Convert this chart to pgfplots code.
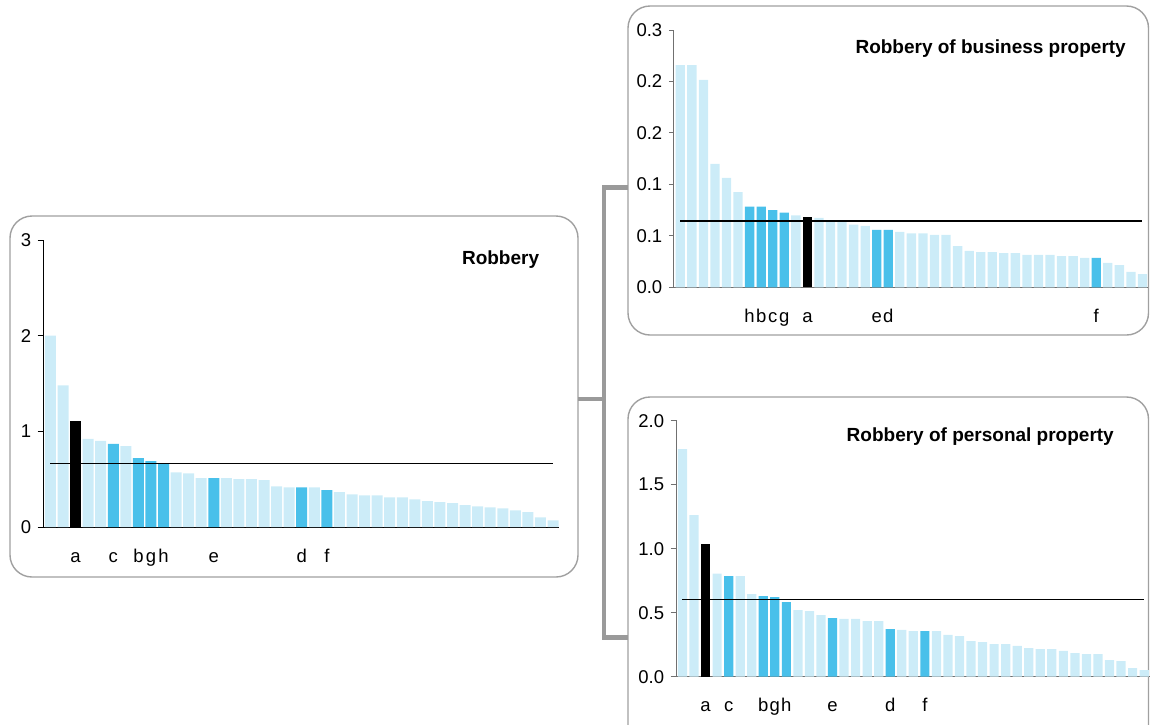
\documentclass[border=0pt]{standalone}
\usepackage{fontspec}
\setmainfont{Liberation Sans}
\usepackage{pgfplots}
\pgfplotsset{compat=1.18}
\definecolor{lightb}{HTML}{CCECF8}
\definecolor{darkb}{HTML}{49C0EA}
\definecolor{boxgray}{HTML}{A0A0A0}
\definecolor{conngray}{HTML}{9A9A9A}
\definecolor{axgray}{HTML}{707070}
\pgfplotsset{
  robax/.style={
    scale only axis, anchor=origin,
    axis lines=left, axis line style={-},
    /pgf/number format/assume math mode=true,
    tick label style={font=\fontsize{18.5}{21}\selectfont},
    x tick style={draw=none},
    xtick align=inside, ytick align=outside,
    xticklabel style={anchor=base, yshift=-35pt},
    yticklabel style={xshift=-3pt},
    clip=false,
  },
  barL/.style={ybar, bar shift=0pt, fill=lightb, draw=none},
  barD/.style={ybar, bar shift=0pt, fill=darkb, draw=none},
  barK/.style={ybar, bar shift=0pt, fill=black, draw=none},
  avg/.style={sharp plot, black, line width=1.7pt, mark=none},
}
\begin{document}
\begin{tikzpicture}
\useasboundingbox (0pt,0pt) rectangle (1150pt,-724pt);
% panel boxes
\draw[boxgray, line width=1.4pt, rounded corners=22pt] (10pt,-216pt) rectangle (578pt,-577pt);
\draw[boxgray, line width=1.4pt, rounded corners=22pt] (628pt,-6pt) rectangle (1148.5pt,-335pt);
\draw[boxgray, line width=1.4pt, rounded corners=22pt] (628pt,-397pt) rectangle (1148.5pt,-760pt);
% connector
\draw[conngray, line width=4.5pt] (578pt,-399pt) -- (604pt,-399pt);
\draw[conngray, line width=4.5pt, line join=miter] (628pt,-187.5pt) -- (604pt,-187.5pt) -- (604pt,-637.5pt) -- (628pt,-637.5pt);

% ---------- Robbery ----------
\begin{axis}[robax,
  at={(43.3pt,-527pt)}, width=516pt, height=287pt,
  xmin=0.43, xmax=41.5, ymin=0, ymax=3,
  axis line style={black, line width=1pt},
  y tick style={black, line width=0.9pt}, major tick length=5.6pt,
  ytick={0,1,2,3}, yticklabels={0,1,2,3},
  xtick={3,6,8,9,10,14,21,23}, xticklabels={a,c,b,g,h,e,d,f},
  bar width=11pt]
\addplot[barL] coordinates {(1,2.00)(2,1.48)(4,0.92)(5,0.90)(7,0.845)(11,0.57)(12,0.56)(13,0.51)(15,0.51)(16,0.50)(17,0.50)(18,0.49)(19,0.425)(20,0.415)(22,0.415)(24,0.365)(25,0.34)(26,0.33)(27,0.33)(28,0.31)(29,0.31)(30,0.29)(31,0.27)(32,0.26)(33,0.25)(34,0.23)(35,0.215)(36,0.205)(37,0.195)(38,0.175)(39,0.155)(40,0.10)(41,0.07)};
\addplot[barD] coordinates {(6,0.87)(8,0.72)(9,0.69)(10,0.665)(14,0.51)(21,0.415)(23,0.385)};
\addplot[barK] coordinates {(3,1.11)};
\addplot[avg] coordinates {(1,0.663)(41,0.663)};
\end{axis}

% ---------- Robbery of business property ----------
\begin{axis}[robax,
  at={(673.3pt,-287.3pt)}, width=474.7pt, height=257.3pt,
  xmin=0.394, xmax=41.48, ymin=0, ymax=0.3,
  axis line style={axgray, line width=1pt},
  y tick style={axgray, line width=0.9pt}, major tick length=4.5pt,
  ytick={0,0.06,0.12,0.18,0.24,0.3}, yticklabels={0.0,0.1,0.1,0.2,0.2,0.3},
  xtick={7,8,9,10,12,18,19,37}, xticklabels={h,b,c,g,a,e,d,f},
  bar width=9.3pt]
\addplot[barL] coordinates {(1,0.259)(2,0.259)(3,0.242)(4,0.144)(5,0.1275)(6,0.111)(11,0.084)(13,0.081)(14,0.077)(15,0.077)(16,0.073)(17,0.0715)(20,0.0645)(21,0.063)(22,0.063)(23,0.061)(24,0.061)(25,0.048)(26,0.0424)(27,0.041)(28,0.041)(29,0.040)(30,0.040)(31,0.0377)(32,0.0377)(33,0.0377)(34,0.0365)(35,0.0365)(36,0.0342)(38,0.0284)(39,0.026)(40,0.018)(41,0.0155)};
\addplot[barD] coordinates {(7,0.094)(8,0.094)(9,0.090)(10,0.087)(18,0.067)(19,0.067)(37,0.0342)};
\addplot[barK] coordinates {(12,0.082)};
\addplot[avg] coordinates {(1,0.0773)(41,0.0773)};
\end{axis}

% ---------- Robbery of personal property ----------
\begin{axis}[robax,
  at={(676.7pt,-676.7pt)}, width=473pt, height=256pt,
  xmin=0.50, xmax=41.48, ymin=0, ymax=2,
  axis line style={axgray, line width=1pt},
  y tick style={axgray, line width=0.9pt}, major tick length=6pt,
  ytick={0,0.5,1,1.5,2}, yticklabels={0.0,0.5,1.0,1.5,2.0},
  xtick={3,5,8,9,10,14,19,22}, xticklabels={a,c,b,g,h,e,d,f},
  bar width=9.2pt]
\addplot[barL] coordinates {(1,1.779)(2,1.263)(4,0.805)(6,0.786)(7,0.646)(11,0.521)(12,0.513)(13,0.482)(15,0.451)(16,0.451)(17,0.435)(18,0.435)(20,0.365)(21,0.357)(23,0.357)(24,0.326)(25,0.318)(26,0.279)(27,0.271)(28,0.255)(29,0.255)(30,0.240)(31,0.224)(32,0.216)(33,0.216)(34,0.201)(35,0.185)(36,0.177)(37,0.177)(38,0.130)(39,0.122)(40,0.068)(41,0.052)};
\addplot[barD] coordinates {(5,0.786)(8,0.630)(9,0.622)(10,0.583)(14,0.458)(19,0.372)(22,0.357)};
\addplot[barK] coordinates {(3,1.036)};
\addplot[avg] coordinates {(1,0.604)(41,0.604)};
\end{axis}

% titles
\node[font=\bfseries\fontsize{19}{22}\selectfont, anchor=base east, inner sep=0pt] at (539.3pt,-264pt) {Robbery};
\node[font=\bfseries\fontsize{19}{22}\selectfont, anchor=base east, inner sep=0pt] at (1126pt,-53.7pt) {Robbery of business property};
\node[font=\bfseries\fontsize{19}{22}\selectfont, anchor=base east, inner sep=0pt] at (1114pt,-441.7pt) {Robbery of personal property};
\end{tikzpicture}
\end{document}
